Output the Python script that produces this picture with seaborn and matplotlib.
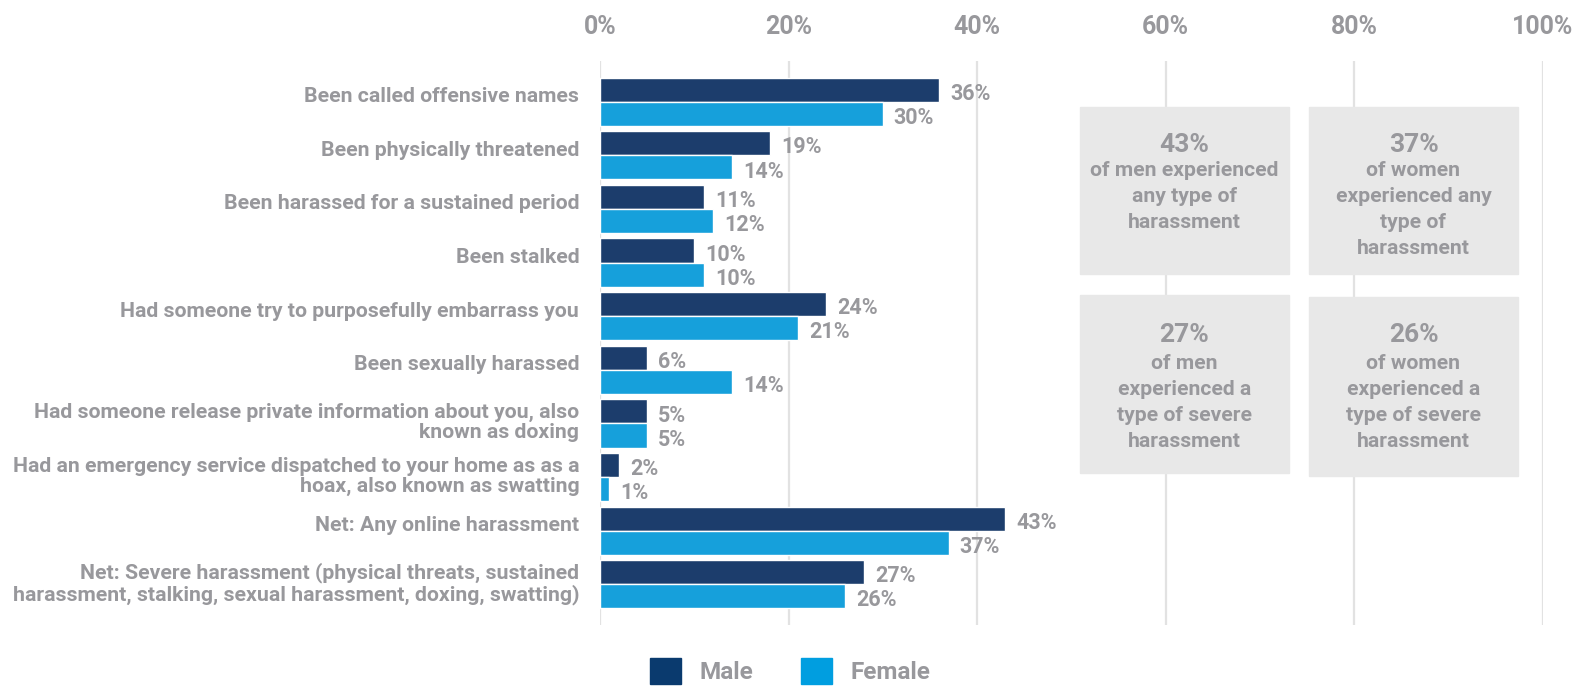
import pandas as pd
import seaborn as sns
import matplotlib.pyplot as plt
import matplotlib.transforms as mtransforms
from matplotlib.patches import Patch, Rectangle

categories = [
    'Been called offensive names',
    'Been physically threatened',
    'Been harassed for a sustained period',
    'Been stalked',
    'Had someone try to purposefully embarrass you',
    'Been sexually harassed',
    'Had someone release private information about you, also\nknown as doxing',
    'Had an emergency service dispatched to your home as as a\nhoax, also known as swatting',
    'Net: Any online harassment',
    'Net: Severe harassment (physical threats, sustained\nharassment, stalking, sexual harassment, doxing, swatting)',
]
male = [36, 18, 11, 10, 24, 5, 5, 2, 43, 28]
female = [30, 14, 12, 11, 21, 14, 5, 1, 37, 26]
male_labels = ['36%', '19%', '11%', '10%', '24%', '6%', '5%', '2%', '43%', '27%']
female_labels = ['30%', '14%', '12%', '10%', '21%', '14%', '5%', '1%', '37%', '26%']

xticks = [0, 20, 40, 60, 80, 100]

boxes = [
    ('43%', 'of men experienced\nany type of\nharassment'),
    ('37%', 'of women\nexperienced any\ntype of\nharassment'),
    ('27%', 'of men\nexperienced a\ntype of severe\nharassment'),
    ('26%', 'of women\nexperienced a\ntype of severe\nharassment'),
]

grey = '#98989c'
c_male = '#1c3d6c'
c_female = '#16a0db'

sns.set_style('white')
plt.rcParams['font.family'] = ['Roboto', 'DejaVu Sans']
plt.rcParams['font.weight'] = 'bold'

df = pd.DataFrame({
    'category': categories * 2,
    'value': male + female,
    'gender': ['Male'] * len(categories) + ['Female'] * len(categories),
})

W, H = 1585, 688
fig = plt.figure(figsize=(W / 100, H / 100), dpi=100)
ax = fig.add_axes([600 / W, 1 - 625 / H, 942.5 / W, 564 / H])

sns.barplot(data=df, y='category', x='value', hue='gender', orient='h',
            palette=[c_male, c_female], width=0.9, gap=0, saturation=1,
            legend=False, ax=ax)

ax.set_xlim(0, 100)
ax.set_ylim(9.76, -0.76)
ax.set_xticks(xticks)
ax.set_xticklabels([f'{t}%' for t in xticks], fontsize=18, color=grey, fontweight='bold')
ax.xaxis.tick_top()
ax.tick_params(axis='x', length=0, pad=16)
ax.tick_params(axis='y', length=0, pad=15, labelsize=15.3, labelcolor=grey)
ax.set_xlabel('')
ax.set_ylabel('')
ax.grid(axis='x', color='#e2e2e2', lw=1.6)
ax.set_axisbelow(True)
sns.despine(ax=ax, left=True, bottom=True, top=True, right=True)

# nudge category labels up a little, single-line ones a bit more
for lbl in ax.get_yticklabels():
    lbl.set_fontweight('bold')
    lbl.set_linespacing(1.1)
    dy = 0.035 if '\n' in lbl.get_text() else 0.07
    lbl.set_transform(lbl.get_transform() + mtransforms.ScaledTranslation(0, dy, fig.dpi_scale_trans))

for cont, labs in zip(ax.containers, [male_labels, female_labels]):
    anns = ax.bar_label(cont, labels=labs, padding=9, fontsize=15.5,
                        color=grey, fontweight='bold')
    for a in anns:
        a.xyann = (8, -3)

# summary boxes (pixel layout)
rects = [(1080, 107, 209, 167), (1309, 107, 209, 167),
         (1080, 295, 209, 178), (1309, 297, 209, 179)]
title_y = [144.5, 144.5, 335, 335]
body_y = [161, 161, 354, 354]
for (big, body), (x0, y0, w, h), ty, by in zip(boxes, rects, title_y, body_y):
    fig.patches.append(Rectangle((x0 / W, 1 - (y0 + h) / H), w / W, h / H,
                                 transform=fig.transFigure, color='#e8e8e8', zorder=1))
    cx = (x0 + w / 2) / W
    fig.text(cx, 1 - ty / H, big, ha='center', va='center',
             fontsize=19, color=grey, fontweight='bold', zorder=2)
    fig.text(cx, 1 - by / H, body, ha='center', va='top',
             fontsize=15.2, color=grey, fontweight='bold', linespacing=1.47, zorder=2)

handles = [Patch(color='#0a3a6e', label='Male'), Patch(color='#009ee0', label='Female')]
leg = fig.legend(handles=handles, loc='upper center', bbox_to_anchor=(0.4985, 1 - 658 / H),
                 ncol=2, frameon=False, fontsize=17.5, handlelength=1.28, handleheight=1.28,
                 handletextpad=0.75, columnspacing=2.0, borderpad=0, borderaxespad=0)
for t in leg.get_texts():
    t.set_color(grey)
    t.set_fontweight('bold')

fig.savefig('out.png', dpi=100)
